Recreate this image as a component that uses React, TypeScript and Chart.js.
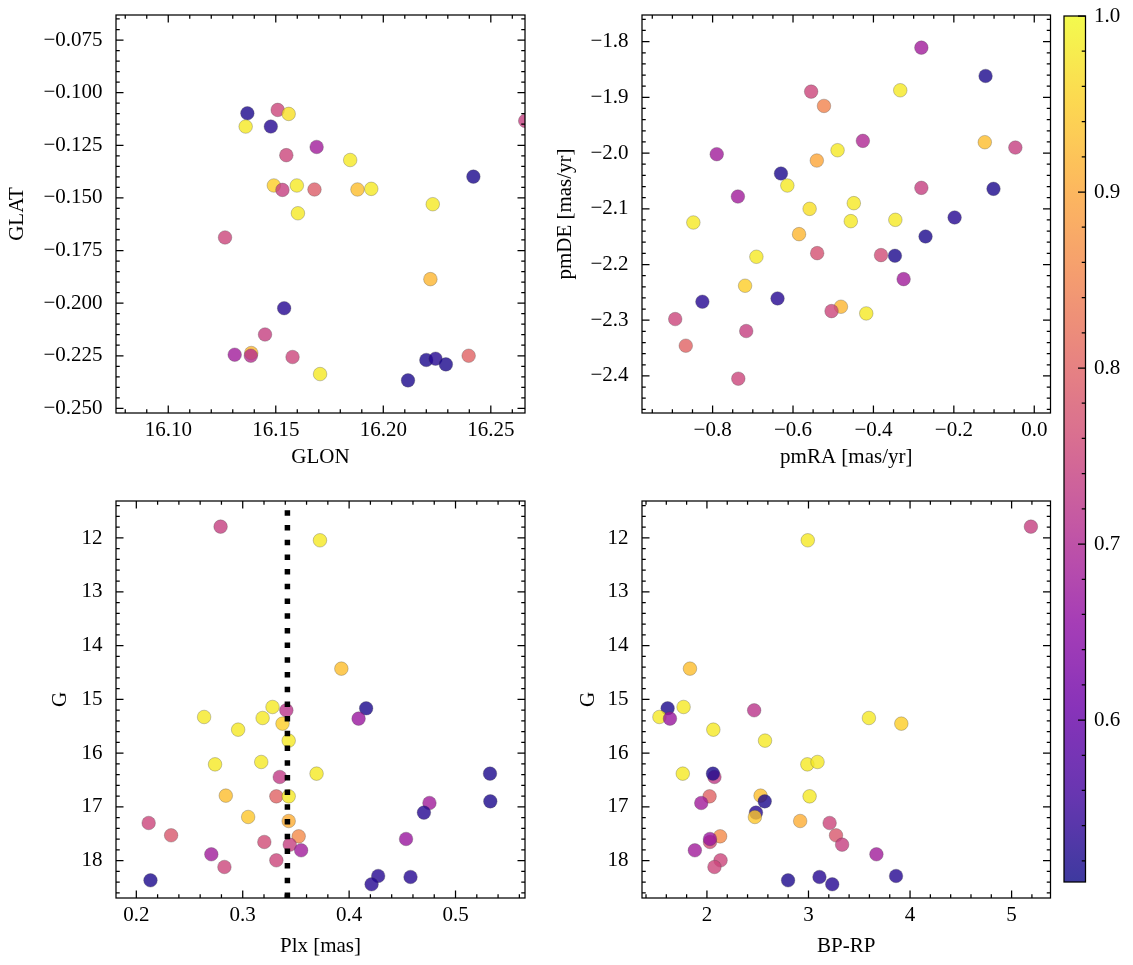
import React, { useEffect, useRef } from "react";
import { Chart, registerables } from "chart.js";

Chart.register(...registerables);

const FONT = "'Liberation Serif', 'Times New Roman', serif";
const FONT_SIZE = 21;
const VMIN = 0.508;
const VMAX = 1.0;

// ---------- top-left: Galactic positions ----------
const glon = [16.1368, 16.136, 16.1477, 16.1509, 16.156, 16.169, 16.1549, 16.1846, 16.2419, 16.1491, 16.1531, 16.1598, 16.168, 16.188, 16.1944, 16.223, 16.1603, 16.1264, 16.2219, 16.1539, 16.145, 16.1309, 16.1386, 16.1384, 16.1578, 16.1706, 16.2115, 16.22, 16.2243, 16.2291, 16.2397, 16.266];
const glat = [-0.1098, -0.1161, -0.1161, -0.1082, -0.1101, -0.1258, -0.1297, -0.132, -0.1399, -0.1441, -0.1462, -0.1441, -0.146, -0.146, -0.1457, -0.153, -0.1573, -0.1688, -0.1886, -0.2024, -0.2149, -0.2245, -0.2237, -0.225, -0.2256, -0.2337, -0.2367, -0.227, -0.2264, -0.2291, -0.225, -0.1134];
const probPos = [0.52, 0.98, 0.53, 0.75, 0.97, 0.68, 0.75, 0.98, 0.52, 0.95, 0.74, 0.98, 0.79, 0.93, 0.98, 0.98, 0.98, 0.75, 0.92, 0.53, 0.74, 0.68, 0.92, 0.71, 0.75, 0.98, 0.52, 0.52, 0.53, 0.52, 0.8, 0.74];

// ---------- top-right: proper motions ----------
const pmra = [-0.2808, -0.1211, -0.3333, -0.5549, -0.523, -0.4263, -0.123, -0.047, -0.7897, -0.4892, -0.5408, -0.63, -0.6141, -0.2808, -0.1014, -0.7371, -0.4488, -0.5587, -0.8479, -0.4563, -0.3455, -0.1981, -0.585, -0.2704, -0.6911, -0.5399, -0.3812, -0.3465, -0.3249, -0.7192, -0.8254, -0.6385, -0.4808, -0.5042, -0.4178, -0.893, -0.7164, -0.8667, -0.7361];
const pmde = [-1.8108, -1.8616, -1.8873, -1.8897, -1.9154, -1.9781, -1.9805, -1.9901, -2.002, -1.9949, -2.0134, -2.0367, -2.0582, -2.0624, -2.0642, -2.078, -2.0899, -2.1001, -2.1246, -2.1222, -2.1198, -2.1156, -2.1455, -2.1497, -2.1861, -2.1796, -2.1831, -2.1843, -2.2262, -2.2381, -2.2668, -2.2609, -2.2758, -2.2836, -2.2878, -2.2979, -2.3194, -2.3457, -2.4049];
const probPm = [0.68, 0.52, 0.98, 0.75, 0.85, 0.7, 0.93, 0.74, 0.68, 0.98, 0.9, 0.52, 0.98, 0.74, 0.52, 0.68, 0.98, 0.97, 0.98, 0.98, 0.98, 0.53, 0.92, 0.52, 0.98, 0.77, 0.76, 0.52, 0.68, 0.95, 0.53, 0.53, 0.92, 0.75, 0.98, 0.75, 0.74, 0.8, 0.75];

// ---------- bottom: photometry and parallax ----------
const gMag = [11.789, 12.043, 14.43, 15.143, 15.168, 15.205, 15.329, 15.348, 15.36, 15.453, 15.565, 15.769, 16.21, 16.166, 16.383, 16.445, 16.383, 16.792, 16.805, 16.805, 16.929, 16.898, 17.108, 17.189, 17.264, 17.301, 17.53, 17.549, 17.654, 17.704, 17.809, 17.598, 17.883, 17.995, 18.119, 18.367, 18.286, 18.441, 18.305];
const plx = [0.2792, 0.3726, 0.3927, 0.328, 0.416, 0.341, 0.2637, 0.3187, 0.4089, 0.3374, 0.2957, 0.3432, 0.274, 0.3174, 0.3694, 0.3348, 0.5324, 0.2841, 0.3316, 0.3432, 0.4755, 0.5327, 0.4703, 0.3051, 0.3432, 0.2116, 0.2327, 0.3526, 0.3203, 0.3442, 0.3549, 0.4535, 0.2705, 0.3316, 0.2828, 0.2133, 0.4273, 0.4211, 0.4577];
const bpRp = [5.19, 2.993, 1.833, 1.77, 1.613, 2.465, 1.532, 3.595, 1.636, 3.914, 2.063, 2.572, 2.989, 3.089, 1.762, 2.074, 2.059, 2.528, 2.026, 3.011, 1.944, 2.569, 2.483, 2.472, 2.918, 3.208, 3.271, 2.13, 2.03, 3.331, 1.881, 2.03, 3.669, 2.134, 2.074, 2.799, 3.862, 3.234, 3.108];
const probPhot = [0.74, 0.98, 0.93, 0.98, 0.52, 0.72, 0.98, 0.98, 0.67, 0.95, 0.98, 0.98, 0.98, 0.98, 0.98, 0.73, 0.52, 0.93, 0.8, 0.98, 0.68, 0.52, 0.53, 0.94, 0.91, 0.75, 0.78, 0.86, 0.76, 0.74, 0.68, 0.67, 0.68, 0.75, 0.75, 0.52, 0.53, 0.53, 0.53];
const plxMean = 0.342;

// ---------- ticks ----------
const glonTicks = [16.1, 16.15, 16.2, 16.25];
const glonLabels = ["16.10", "16.15", "16.20", "16.25"];
const glatTicks = [-0.075, -0.1, -0.125, -0.15, -0.175, -0.2, -0.225, -0.25];
const glatLabels = ["−0.075", "−0.100", "−0.125", "−0.150", "−0.175", "−0.200", "−0.225", "−0.250"];
const pmraTicks = [-0.8, -0.6, -0.4, -0.2, 0];
const pmraLabels = ["−0.8", "−0.6", "−0.4", "−0.2", "0.0"];
const pmdeTicks = [-1.8, -1.9, -2.0, -2.1, -2.2, -2.3, -2.4];
const pmdeLabels = ["−1.8", "−1.9", "−2.0", "−2.1", "−2.2", "−2.3", "−2.4"];
const plxTicks = [0.2, 0.3, 0.4, 0.5];
const plxLabels = ["0.2", "0.3", "0.4", "0.5"];
const gTicks = [12, 13, 14, 15, 16, 17, 18];
const gLabels = ["12", "13", "14", "15", "16", "17", "18"];
const bpRpTicks = [2, 3, 4, 5];
const bpRpLabels = ["2", "3", "4", "5"];
const cbTicks = [0.6, 0.7, 0.8, 0.9, 1.0];
const cbLabels = ["0.6", "0.7", "0.8", "0.9", "1.0"];

// ---------- axis limits ----------
const glonRange = [16.0757, 16.2659];
const glatRange = [-0.2522, -0.0631];
const pmraRange = [-0.9756, 0.0404];
const pmdeRange = [-2.4665, -1.7522];
const plxRange = [0.1809, 0.5653];
const bpRpRange = [1.3606, 5.383];
const gRange = [11.312, 18.696];

// ---------- plasma colormap ----------
const PLASMA = [
  [13, 8, 135], [65, 4, 157], [106, 0, 168], [143, 13, 164], [177, 42, 144],
  [204, 71, 120], [225, 100, 98], [242, 132, 75], [252, 166, 54], [252, 206, 37], [240, 249, 33],
];
function plasma(t: number): number[] {
  const x = Math.min(1, Math.max(0, t)) * (PLASMA.length - 1);
  const i = Math.min(PLASMA.length - 2, Math.floor(x));
  const f = x - i;
  const a = PLASMA[i], b = PLASMA[i + 1];
  return [0, 1, 2].map((k) => a[k] + (b[k] - a[k]) * f);
}
function probColor(p: number, alpha = 0.8) {
  const [r, g, b] = plasma((p - VMIN) / (VMAX - VMIN));
  return `rgba(${Math.round(r)},${Math.round(g)},${Math.round(b)},${alpha})`;
}

// ---------- plugins ----------
const MAJOR_LEN = 7.5;
const MINOR_LEN = 3.75;
const LW = 1.25;

const frameTicks = {
  id: "frameTicks",
  afterDraw(chart: any, _args: any, opts: any) {
    const { ctx, chartArea: ca } = chart;
    ctx.save();
    ctx.strokeStyle = "#000";
    ctx.lineWidth = LW;
    ctx.lineCap = "butt";
    for (const ax of opts.axes || []) {
      const s = chart.scales[ax.id];
      const lo = Math.min(s.min, s.max);
      const hi = Math.max(s.min, s.max);
      const marks: number[][] = ax.major
        .filter((v: number) => v >= lo - 1e-9 && v <= hi + 1e-9)
        .map((v: number) => [v, MAJOR_LEN]);
      const i0 = Math.ceil(lo / ax.minor - 1e-6);
      const i1 = Math.floor(hi / ax.minor + 1e-6);
      for (let i = i0; i <= i1; i++) {
        const v = i * ax.minor;
        if (!ax.major.some((m: number) => Math.abs(m - v) < ax.minor * 0.01)) marks.push([v, MINOR_LEN]);
      }
      ctx.beginPath();
      for (const [v, len] of marks) {
        const p = s.getPixelForValue(v);
        if (s.isHorizontal()) {
          ctx.moveTo(p, ca.bottom);
          ctx.lineTo(p, ca.bottom - len);
          ctx.moveTo(p, ca.top);
          ctx.lineTo(p, ca.top + len);
        } else {
          if (ax.sides !== "right") {
            ctx.moveTo(ca.left, p);
            ctx.lineTo(ca.left + len, p);
          }
          ctx.moveTo(ca.right, p);
          ctx.lineTo(ca.right - len, p);
        }
      }
      ctx.stroke();
    }
    ctx.strokeRect(ca.left, ca.top, ca.right - ca.left, ca.bottom - ca.top);
    ctx.restore();
  },
};

const colorbarFill = {
  id: "colorbarFill",
  beforeDatasetsDraw(chart: any) {
    const { ctx, chartArea: ca, scales } = chart;
    const y = scales.y;
    const y0 = y.getPixelForValue(VMIN);
    const y1 = y.getPixelForValue(VMAX);
    const g = ctx.createLinearGradient(0, y0, 0, y1);
    const n = 60;
    for (let i = 0; i <= n; i++) {
      const t = i / n;
      g.addColorStop(t, probColor(VMIN + t * (VMAX - VMIN)));
    }
    ctx.save();
    ctx.fillStyle = g;
    ctx.fillRect(ca.left, ca.top, ca.right - ca.left, ca.bottom - ca.top);
    ctx.restore();
  },
};

// ---------- builders ----------
type AxisOpts = {
  range: number[];
  reverse?: boolean;
  ticks: number[];
  labels: string[];
  title?: string;
  position: string;
  size: number;
  tickPad: number;
  titlePad?: { top: number; bottom: number };
  isX: boolean;
};

function axis(o: AxisOpts) {
  return {
    type: "linear",
    position: o.position,
    min: o.range[0],
    max: o.range[1],
    reverse: !!o.reverse,
    bounds: "data",
    grid: { display: false, drawTicks: false, drawOnChartArea: false },
    border: { display: false },
    ticks: {
      autoSkip: false,
      maxRotation: 0,
      minRotation: 0,
      padding: o.tickPad,
      color: "#000",
      font: { family: FONT, size: FONT_SIZE },
      callback: (v: number) => {
        const i = o.ticks.findIndex((t) => Math.abs(t - v) < 1e-9);
        return i >= 0 ? o.labels[i] : "";
      },
    },
    afterBuildTicks: (s: any) => {
      s.ticks = o.ticks.map((v) => ({ value: v }));
    },
    afterFit: (s: any) => {
      if (o.isX) s.height = o.size;
      else s.width = o.size;
      s.paddingLeft = 0;
      s.paddingRight = 0;
      s.paddingTop = 0;
      s.paddingBottom = 0;
    },
    title: o.title
      ? { display: true, text: o.title, color: "#000", font: { family: FONT, size: FONT_SIZE }, padding: o.titlePad }
      : { display: false },
  };
}

function scatterDataset(xs: number[], ys: number[], probs: number[]) {
  return {
    type: "scatter",
    data: xs.map((x, i) => ({ x, y: ys[i] })),
    backgroundColor: probs.map((p) => probColor(p)),
    borderColor: "rgba(70,70,70,0.5)",
    borderWidth: 0.6,
    pointRadius: 6.8,
    pointHoverRadius: 6.8,
    clip: 0,
    order: 1,
  };
}

function panelConfig(datasets: any[], x: any, y: any, padding: any, axesTicks: any[], extraPlugins: any[] = []) {
  return {
    type: "scatter",
    data: { datasets },
    options: {
      responsive: false,
      maintainAspectRatio: false,
      animation: false,
      events: [],
      layout: { padding },
      plugins: {
        legend: { display: false },
        tooltip: { enabled: false },
        frameTicks: { axes: axesTicks },
      },
      scales: { x, y },
    },
    plugins: [...extraPlugins, frameTicks],
  };
}

const buildTL = () =>
  panelConfig(
    [scatterDataset(glon, glat, probPos)],
    axis({ range: glonRange, ticks: glonTicks, labels: glonLabels, title: "GLON", position: "bottom", size: 69, tickPad: 4.5, titlePad: { top: 0, bottom: 12 }, isX: true }),
    axis({ range: glatRange, ticks: glatTicks, labels: glatLabels, title: "GLAT", position: "left", size: 116, tickPad: 13.5, titlePad: { top: 5, bottom: 0 }, isX: false }),
    { left: 0, top: 15, right: 45, bottom: 0 },
    [
      { id: "x", major: glonTicks, minor: 0.01 },
      { id: "y", major: glatTicks, minor: 0.005 },
    ]
  );

const buildTR = () =>
  panelConfig(
    [scatterDataset(pmra, pmde, probPm)],
    axis({ range: pmraRange, ticks: pmraTicks, labels: pmraLabels, title: "pmRA [mas/yr]", position: "bottom", size: 69, tickPad: 4.5, titlePad: { top: 0, bottom: 12 }, isX: true }),
    axis({ range: pmdeRange, ticks: pmdeTicks, labels: pmdeLabels, title: "pmDE [mas/yr]", position: "left", size: 102, tickPad: 13.5, titlePad: { top: 13, bottom: 0 }, isX: false }),
    { left: 0, top: 15, right: 19.5, bottom: 0 },
    [
      { id: "x", major: pmraTicks, minor: 0.05 },
      { id: "y", major: pmdeTicks, minor: 0.02 },
    ]
  );

const buildBL = () =>
  panelConfig(
    [
      {
        type: "line",
        data: [
          { x: plxMean, y: gRange[1] },
          { x: plxMean, y: gRange[0] },
        ],
        borderColor: "#000",
        borderWidth: 5.5,
        borderDash: [5.5, 9.2],
        borderCapStyle: "butt",
        pointRadius: 0,
        fill: false,
        tension: 0,
        clip: 0,
        order: 0,
      },
      scatterDataset(plx, gMag, probPhot),
    ],
    axis({ range: plxRange, ticks: plxTicks, labels: plxLabels, title: "Plx [mas]", position: "bottom", size: 67, tickPad: 4.5, titlePad: { top: 0, bottom: 6 }, isX: true }),
    axis({ range: gRange, reverse: true, ticks: gTicks, labels: gLabels, title: "G", position: "left", size: 116, tickPad: 13.5, titlePad: { top: 48, bottom: 0 }, isX: false }),
    { left: 0, top: 19, right: 45, bottom: 0 },
    [
      { id: "x", major: plxTicks, minor: 0.02 },
      { id: "y", major: gTicks, minor: 0.2 },
    ]
  );

const buildBR = () =>
  panelConfig(
    [scatterDataset(bpRp, gMag, probPhot)],
    axis({ range: bpRpRange, ticks: bpRpTicks, labels: bpRpLabels, title: "BP-RP", position: "bottom", size: 67, tickPad: 4.5, titlePad: { top: 0, bottom: 6 }, isX: true }),
    axis({ range: gRange, reverse: true, ticks: gTicks, labels: gLabels, title: "G", position: "left", size: 102, tickPad: 13.5, titlePad: { top: 36, bottom: 0 }, isX: false }),
    { left: 0, top: 19, right: 19.5, bottom: 0 },
    [
      { id: "x", major: bpRpTicks, minor: 0.2 },
      { id: "y", major: gTicks, minor: 0.2 },
    ]
  );

const buildCB = () =>
  panelConfig(
    [],
    { type: "linear", display: false, min: 0, max: 1 },
    axis({ range: [VMIN, VMAX], ticks: cbTicks, labels: cbLabels, position: "right", size: 47.5, tickPad: 8.5, isX: false }),
    { left: 24, top: 16, right: 0, bottom: 83 },
    [{ id: "y", major: cbTicks, minor: 0.02, sides: "right" }],
    [colorbarFill]
  );

function ChartBox(props: { left: number; top: number; width: number; height: number; build: () => any }) {
  const ref = useRef<HTMLCanvasElement>(null);
  useEffect(() => {
    const chart = new Chart(ref.current as HTMLCanvasElement, props.build());
    return () => chart.destroy();
  }, []);
  return (
    <canvas
      ref={ref}
      width={props.width}
      height={props.height}
      style={{ position: "absolute", left: props.left, top: props.top, width: props.width, height: props.height }}
    />
  );
}

export default function App() {
  return (
    <div style={{ position: "fixed", left: 0, top: 0, width: 1133, height: 965, background: "#fff", overflow: "hidden" }}>
      <ChartBox left={0} top={0} width={570} height={482} build={buildTL} />
      <ChartBox left={540} top={0} width={530} height={482} build={buildTR} />
      <ChartBox left={0} top={482} width={570} height={483} build={buildBL} />
      <ChartBox left={540} top={482} width={530} height={483} build={buildBR} />
      <ChartBox left={1040} top={0} width={93} height={965} build={buildCB} />
    </div>
  );
}
